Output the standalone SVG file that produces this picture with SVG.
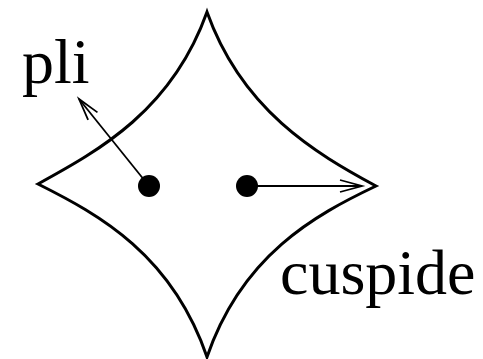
<svg xmlns="http://www.w3.org/2000/svg" width="483" height="359" viewBox="0 0 483 359">
<style>
.curve{fill:none;stroke:#000;stroke-width:3;stroke-linejoin:miter}
.conn{fill:none;stroke:#000;stroke-width:1.8}
.dot{fill:#000}
.lbl{font-family:"Liberation Serif","Times New Roman",serif;font-size:64px;fill:#000}
</style>
<defs>
<marker id="open" markerUnits="userSpaceOnUse" markerWidth="30" markerHeight="20" viewBox="-24 -10 30 20" refX="0" refY="0" orient="auto">
<path d="M-22,-6 L0,0 L-22,6" fill="none" stroke="#000" stroke-width="1.8"/>
</marker>
</defs>
<g id="astroid">
<path class="curve" d="M207,12 C172,110 100,150 38,184 C100,215 172,255 207,357 C242,255 315,215 376,186 C315,153 242,110 207,12 Z"/>
</g>
<g id="pli-point"><circle class="dot" cx="149" cy="186" r="11"/></g>
<g id="cusp-point"><circle class="dot" cx="247" cy="186" r="11"/></g>
<g id="connectors">
<line class="conn" x1="149" y1="186" x2="79" y2="99" marker-end="url(#open)"/>
<line class="conn" x1="247" y1="186" x2="362" y2="186" marker-end="url(#open)"/>
</g>
<g id="labels">
<text class="lbl" x="22" y="83">pli</text>
<text class="lbl" x="280" y="294">cuspide</text>
</g>
</svg>
